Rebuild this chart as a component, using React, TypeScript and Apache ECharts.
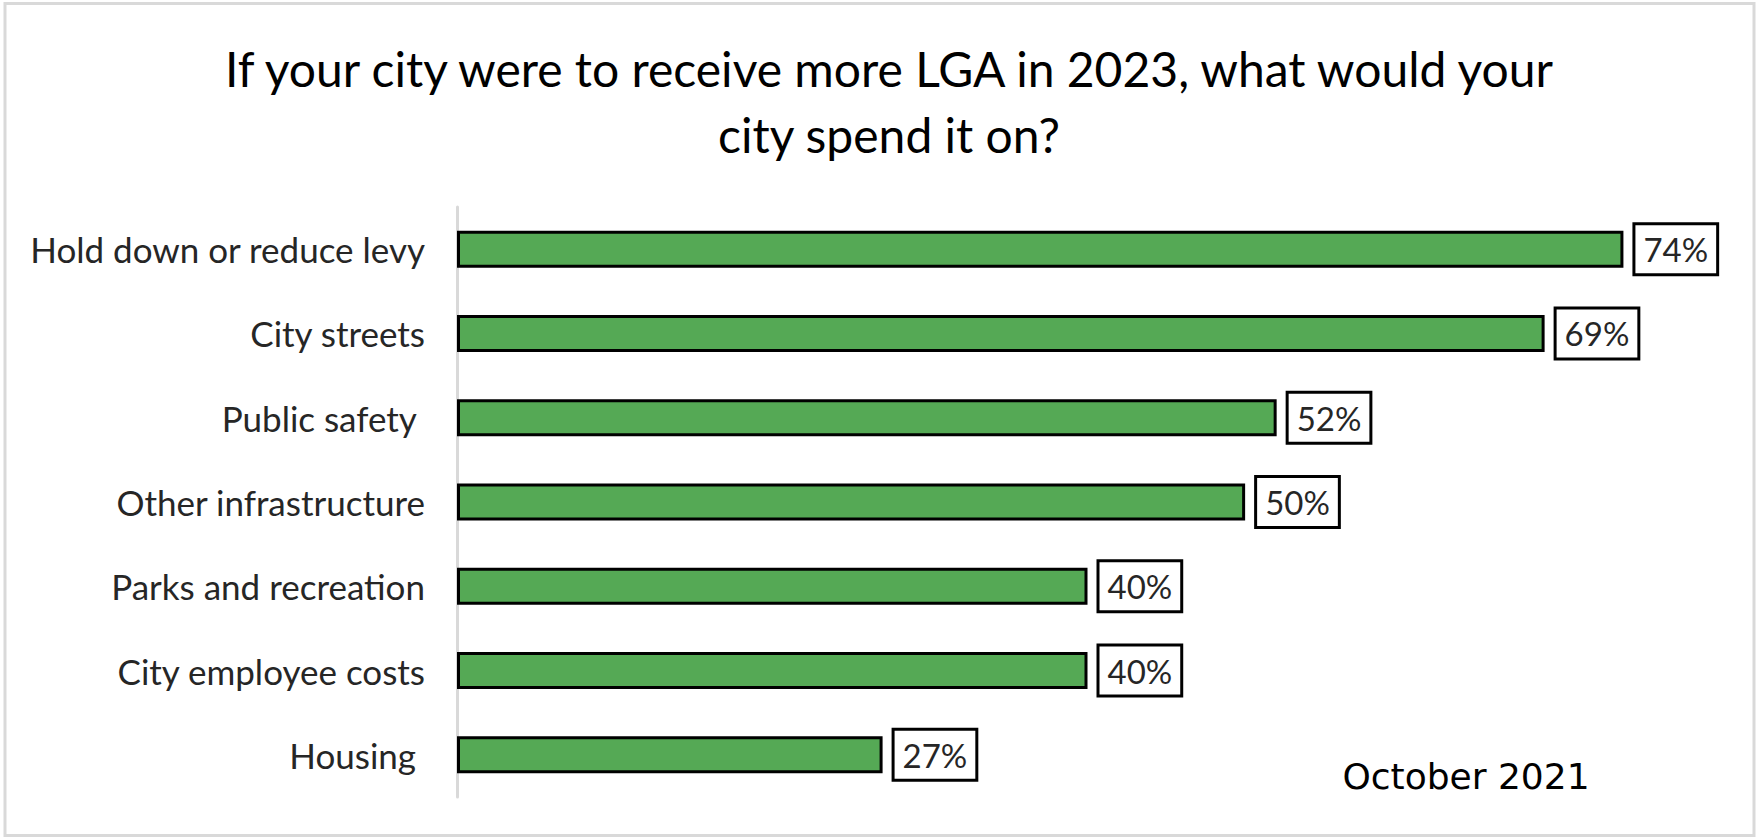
import React, { useEffect, useRef } from "react";
import * as echarts from "echarts";

const titleText = "If your city were to receive more LGA in 2023, what would your\ncity spend it on?";
const categories = [
  "Hold down or reduce levy",
  "City streets",
  "Public safety ",
  "Other infrastructure",
  "Parks and recreation",
  "City employee costs",
  "Housing ",
];
const values = [74, 69, 52, 50, 40, 40, 27];
const footnote = "October 2021";

export default function App() {
  const ref = useRef<HTMLDivElement>(null);
  useEffect(() => {
    if (!ref.current) return;
    const chart = echarts.init(ref.current, null, { renderer: "svg" });
    chart.setOption({
      animation: false,
      backgroundColor: "#ffffff",
      title: {
        text: titleText,
        left: 884,
        textAlign: "center",
        top: 30,
        textStyle: {
          fontFamily: "Lato",
          fontWeight: "normal",
          fontSize: 48,
          lineHeight: 66,
          color: "#000000",
        },
      },
      graphic: [
        {
          type: "rect",
          shape: { x: 5, y: 3.5, width: 1749, height: 832 },
          style: { fill: "none", stroke: "#d9d9d9", lineWidth: 3 },
          silent: true,
        },
        {
          type: "text",
          x: 1466,
          y: 776,
          style: {
            text: footnote,
            fontFamily: "DejaVu Sans",
            fontSize: 36,
            fill: "#000000",
            textAlign: "center",
            textVerticalAlign: "middle",
          },
        },
      ],
      grid: { left: 457, top: 207, width: 1261, height: 590, containLabel: false },
      xAxis: { type: "value", min: 0, max: 80, show: false },
      yAxis: {
        type: "category",
        data: categories,
        inverse: true,
        axisLine: { show: true, lineStyle: { color: "#d9d9d9", width: 3 } },
        axisTick: { show: false },
        axisLabel: {
          margin: 32,
          fontFamily: "Lato",
          fontSize: 35,
          color: "#262626",
        },
        splitLine: { show: false },
      },
      series: [
        {
          type: "bar",
          data: values,
          barWidth: 37,
          itemStyle: { color: "#55a955", borderColor: "#000000", borderWidth: 3 },
          label: {
            show: true,
            position: "right",
            distance: 12,
            formatter: "{c}%",
            fontFamily: "Lato",
            fontSize: 33,
            color: "#262626",
            backgroundColor: "#ffffff",
            borderColor: "#000000",
            borderWidth: 3,
            padding: [9, 8, 6, 8],
          },
        },
      ],
    });
    return () => chart.dispose();
  }, []);
  return <div ref={ref} style={{ position: "absolute", left: 0, top: 0, width: 1757, height: 839 }} />;
}
